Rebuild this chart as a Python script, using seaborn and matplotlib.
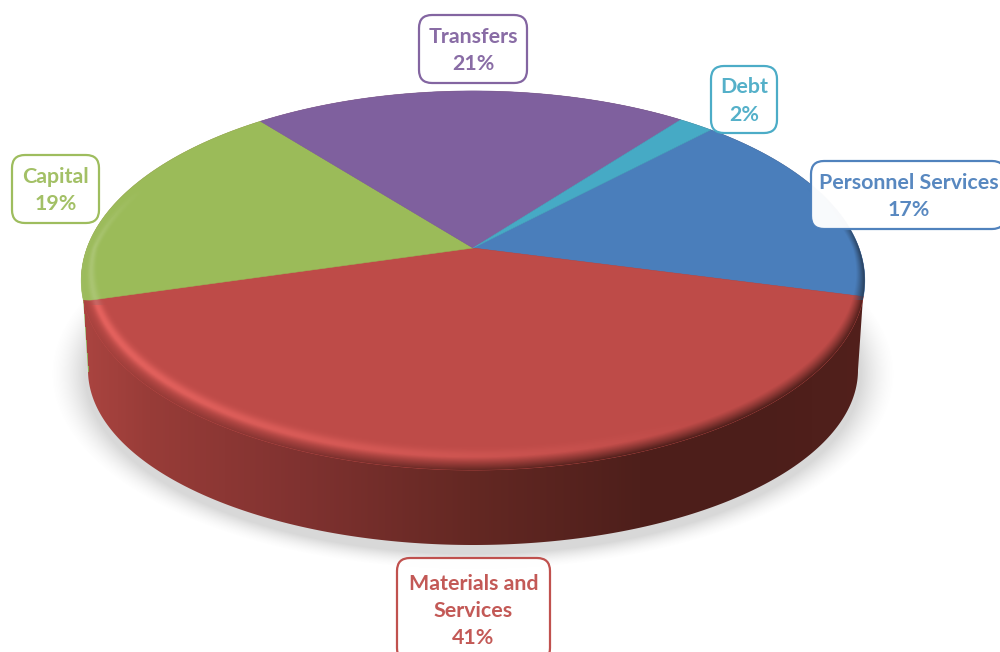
import numpy as np
import matplotlib
matplotlib.use('Agg')
import matplotlib.pyplot as plt
from matplotlib.patches import FancyBboxPatch, Polygon
import seaborn as sns

# Budget shares, slices read clockwise from the Debt / Personnel boundary
categories = ['Personnel Services', 'Materials and\nServices', 'Capital', 'Transfers', 'Debt']
shares = [16.9, 41.5, 18.7, 21.2, 1.7]
share_labels = ['17%', '41%', '19%', '21%', '2%']
hex_colors = ['#4A7EBB', '#BE4B48', '#9BBB59', '#7F609E', '#46AAC5']

# Label boxes: x0, y0, x1, y1 in pixels
label_boxes = [(810, 160, 1006, 230), (396, 557, 551, 662), (11, 154, 100, 224),
               (418, 14, 528, 84), (710, 65, 778, 134)]

W, H = 1000, 652
cx, cy = 473.0, 248.0   # pie apex on the picture
k = 0.1715              # perspective of the tilted disk
a, b = 386.0, 184.0
bottom_cy, bottom_a, bottom_b = 370.0, 385.0, 175.0


def project(u, v):
    d = 1 + k * v
    return cx + a * u / d, cy - b * v / d


def disk_arc(t1, t2, n=200):
    t = np.radians(np.linspace(t1, t2, n))
    return project(np.cos(t), np.sin(t))


sns.set_theme(style='white')
plt.rcParams['font.family'] = ['Lato', 'DejaVu Sans']
palette = sns.color_palette(hex_colors)

fig = plt.figure(figsize=(W / 100, H / 100), dpi=100)
ax = fig.add_axes([0, 0, 1, 1])

wedges, _ = ax.pie(shares, colors=palette, startangle=46.2, counterclock=False)

xx, yy = np.meshgrid(np.arange(W) + 0.5, np.arange(H) + 0.5)
extent = (0, W, H, 0)

# soft shadow under the disk
e = np.sqrt(((xx - cx) / 388) ** 2 + ((yy - 374) / 180) ** 2)
shadow = np.zeros((H, W, 4))
shadow[..., :3] = 0.5
shadow[..., 3] = 0.3 * np.clip((1.09 - e) / 0.09, 0, 1) ** 1.6
ax.imshow(shadow, extent=extent, zorder=1, aspect='auto')

# side wall
tx, ty = disk_arc(-8, 188)
t = np.radians(np.linspace(180, 360, 200))
wx = cx + bottom_a * np.cos(t)
wy = bottom_cy - bottom_b * np.sin(t)
wall_patch = Polygon(np.column_stack([np.r_[tx, wx], np.r_[ty, wy]]), closed=True,
                     fc='none', ec='none', zorder=2)
ax.add_patch(wall_patch)
stops_x = [85, 150, 300, 470, 640, 760, 865]
for_r = [170, 152, 128, 100, 78, 76, 82]
for_g = [68, 60, 50, 40, 31, 30, 32]
for_b = [64, 56, 48, 35, 27, 26, 28]
wall = np.zeros((H, W, 3))
wall[..., 0] = np.interp(xx, stops_x, for_r) / 255
wall[..., 1] = np.interp(xx, stops_x, for_g) / 255
wall[..., 2] = np.interp(xx, stops_x, for_b) / 255
sliver = (xx < 84 + (yy - 307) * 5 / 65) & (yy < 372)
wall[sliver] = np.array([142, 172, 84]) / 255
wall_im = ax.imshow(wall, extent=extent, zorder=2, aspect='auto')
wall_im.set_clip_path(wall_patch)

# top face: pie angles pushed through the perspective
for w, c in zip(wedges, palette):
    px, py = disk_arc(w.theta1, w.theta2)
    pts = np.column_stack([np.r_[cx, px], np.r_[cy, py]])
    ax.add_patch(Polygon(pts, closed=True, fc=c, ec=c, lw=0.4, zorder=3))
    w.remove()

# rim bevel on the top face: a highlight layer, then a layer fading into the wall colour
X = (xx - cx) / a
Y = -(yy - cy) / b
v = Y / (1 - k * Y)
u = X * (1 + k * v)
r = np.hypot(u, v)
side = np.abs(v) / np.maximum(r, 1e-6)
width = 0.035 + 0.065 * side
tt = np.clip((r - (1 - width)) / width, 0, 1)
strength = np.clip((0.35 - v) / 0.35, 0, 1)
xn = np.clip((xx - 85) / 780, 0, 1)
face_x, face_y = disk_arc(0, 360, 400)
face_patch = Polygon(np.column_stack([face_x, face_y]), closed=True, fc='none', ec='none', zorder=4)
ax.add_patch(face_patch)

light = np.exp(-((tt - 0.45) / 0.22) ** 2) * np.clip(0.6 - 0.75 * xn, 0, 1)
light = np.where(yy > 305, light, light * 0.25)
bevel_light = np.zeros((H, W, 4))
bevel_light[..., 0] = 1.0
bevel_light[..., 1] = np.where(yy > 305, 0.45, 1.0)
bevel_light[..., 2] = np.where(yy > 305, 0.43, 1.0)
bevel_light[..., 3] = light * strength
im = ax.imshow(bevel_light, extent=extent, zorder=4, aspect='auto')
im.set_clip_path(face_patch)

edge = wall.copy()
edge[yy < 300] = np.array([0.16, 0.25, 0.36])
edge[(yy < 300) & (xx < cx)] = np.array([0.62, 0.74, 0.38])
bevel_dark = np.zeros((H, W, 4))
bevel_dark[..., :3] = edge
bevel_dark[..., 3] = np.clip((tt - 0.5) / 0.5, 0, 1) ** 1.2 * strength
im = ax.imshow(bevel_dark, extent=extent, zorder=4.1, aspect='auto')
im.set_clip_path(face_patch)

# data labels
for name, pct, box, c in zip(categories, share_labels, label_boxes, palette):
    x0, y0, x1, y1 = box
    ax.add_patch(FancyBboxPatch((x0 + 1, y0 + 1), x1 - x0 - 2, y1 - y0 - 2,
                                boxstyle='round,pad=0,rounding_size=13', fc='white',
                                ec=c, lw=1.6, alpha=0.97, zorder=5))
    tx_pos = (x0 + x1) / 2 if x1 <= W else 909
    ax.text(tx_pos, (y0 + y1) / 2 + 1.5, name + '\n' + pct, color=c, fontsize=15.4,
            fontweight='bold', ha='center', va='center', linespacing=1.45, alpha=0.92, zorder=6)

ax.set_aspect('auto')
ax.set_xlim(0, W)
ax.set_ylim(H, 0)
ax.axis('off')

fig.savefig('out.png', dpi=100)
